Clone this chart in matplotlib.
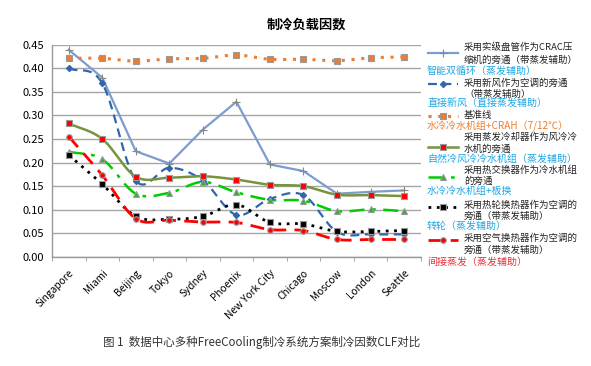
import numpy as np
import matplotlib
matplotlib.use("Agg")
import matplotlib.pyplot as plt

plt.rcParams['font.family'] = ['Noto Sans CJK SC', 'DejaVu Sans']

cities = ["Singapore", "Miami", "Beijing", "Tokyo", "Sydney", "Phoenix",
          "New York City", "Chicago", "Moscow", "London", "Seattle"]

crac = [0.439, 0.380, 0.224, 0.198, 0.270, 0.329, 0.196, 0.182, 0.134, 0.138, 0.141]
fresh_air = [0.400, 0.368, 0.162, 0.189, 0.162, 0.089, 0.123, 0.131, 0.053, 0.048, 0.048]
baseline = [0.421, 0.421, 0.415, 0.420, 0.421, 0.428, 0.419, 0.419, 0.416, 0.422, 0.424]
evap_cooler = [0.283, 0.250, 0.170, 0.168, 0.171, 0.164, 0.153, 0.150, 0.132, 0.131, 0.129]
heat_exch = [0.223, 0.207, 0.134, 0.136, 0.159, 0.137, 0.121, 0.119, 0.097, 0.101, 0.097]
heat_wheel = [0.216, 0.154, 0.086, 0.080, 0.086, 0.111, 0.073, 0.070, 0.054, 0.054, 0.056]
air_exch = [0.255, 0.173, 0.081, 0.078, 0.074, 0.073, 0.058, 0.056, 0.037, 0.037, 0.037]

legend_text = [
    ["采用实级盘管作为CRAC压", "缩机的旁通（带蒸发辅助）"],
    ["采用新风作为空调的旁通", "（带蒸发辅助）"],
    ["基准线"],
    ["采用蒸发冷却器作为风冷冷", "水机的旁通"],
    ["采用热交换器作为冷水机组", "的旁通"],
    ["采用热轮换热器作为空调的", "旁通（带蒸发辅助）"],
    ["采用空气换热器作为空调的", "旁通（带蒸发辅助）"],
]
scheme_names = [
    "智能双循环（蒸发辅助）",
    "直接新风（直接蒸发辅助）",
    "水冷冷水机组+CRAH（7/12℃）",
    "自然冷风冷冷水机组（蒸发辅助）",
    "水冷冷水机组+板换",
    "转轮（蒸发辅助）",
    "间接蒸发（蒸发辅助）",
]


def smooth(y, n=24):
    # Excel-style smoothed line (Catmull-Rom through the points)
    y = np.asarray(y, float)
    x = np.arange(len(y), dtype=float)
    px = np.concatenate([[2 * x[0] - x[1]], x, [2 * x[-1] - x[-2]]])
    py = np.concatenate([[2 * y[0] - y[1]], y, [2 * y[-1] - y[-2]]])
    xs, ys = [], []
    t = np.linspace(0, 1, n, endpoint=False)
    for i in range(1, len(px) - 2):
        for arr, out in ((px, xs), (py, ys)):
            p0, p1, p2, p3 = arr[i - 1], arr[i], arr[i + 1], arr[i + 2]
            out.extend(0.5 * (2 * p1 + (-p0 + p2) * t
                              + (2 * p0 - 5 * p1 + 4 * p2 - p3) * t ** 2
                              + (-p0 + 3 * p1 - 3 * p2 + p3) * t ** 3))
    xs.append(x[-1]); ys.append(y[-1])
    return np.array(xs), np.array(ys)


styles = [
    # data, color, linestyle, lw, marker, size, mfc, mec, smooth
    (crac, "#7B9BD1", "-", 1.6, "+", 6, "#888888", "#888888", False),
    (fresh_air, "#2F66AC", (0, (4, 2.5)), 1.6, "D", 3.2, "#2F66AC", "#2F66AC", True),
    (baseline, "#ED7D31", (0, (1, 2.2)), 2.2, "s", 4, "#ED7D31", "#999999", True),
    (evap_cooler, "#77933C", "-", 1.8, "s", 4, "#FF0000", "#999999", True),
    (heat_exch, "#00CC00", (0, (6, 3, 1.5, 3)), 1.8, "^", 4, "#2CB52C", "#999999", True),
    (heat_wheel, "#000000", (0, (1, 2)), 2.0, "s", 4, "#000000", "#999999", True),
    (air_exch, "#FF0000", (0, (5, 3)), 2.0, "o", 4, "#FF0000", "#999999", True),
]
label_colors = ["#1EA6E2", "#1EA6E2", "#F07E2E", "#1EA6E2", "#1EA6E2", "#1EA6E2", "#E2313C"]

fig = plt.figure(figsize=(5.91, 3.66), dpi=100)
ax = fig.add_axes([0.088, 0.298, 0.624, 0.58])

x = np.arange(len(cities))
for data, c, ls, lw, mk, ms, mfc, mec, sm in styles:
    if sm:
        sx, sy = smooth(data)
    else:
        sx, sy = x, np.asarray(data)
    ax.plot(sx, sy, color=c, linestyle=ls, linewidth=lw, zorder=3)
    ax.plot(x, data, linestyle="none", marker=mk, markersize=ms,
            markerfacecolor=mfc, markeredgecolor=mec, markeredgewidth=0.8, zorder=4)

ax.set_xlim(-0.5, len(cities) - 0.5)
ax.set_ylim(0, 0.45)
ax.set_yticks(np.arange(0, 0.451, 0.05))
ax.set_yticklabels([f"{v:.2f}" for v in np.arange(0, 0.451, 0.05)], fontsize=8)
ax.yaxis.grid(True, color="#A6A6A6", linewidth=1)
ax.set_axisbelow(True)
ax.set_xticks(x)
ax.set_xticklabels(cities, rotation=45, ha="right", rotation_mode="anchor", fontsize=7.3)
ax.set_xticks(np.arange(-0.5, len(cities), 1), minor=True)
ax.tick_params(axis="x", which="major", length=0, pad=8)
ax.tick_params(axis="x", which="minor", length=3, color="#999999")
ax.tick_params(axis="y", length=0, pad=6)
for s in ["top", "right"]:
    ax.spines[s].set_visible(False)
for s in ["left", "bottom"]:
    ax.spines[s].set_color("#999999")
    ax.spines[s].set_linewidth(1)

fig.text(0.518, 0.932, "制冷负载因数", ha="center", va="center", fontsize=9.5, fontweight="bold")
fig.text(0.443, 0.063, "图 1  数据中心多种FreeCooling制冷系统方案制冷因数CLF对比",
         ha="center", va="center", fontsize=8.3, color="#333333")

# legend drawn in pixel coordinates
lg = fig.add_axes([0, 0, 1, 1])
lg.set_xlim(0, 591)
lg.set_ylim(366, 0)
lg.axis("off")
sample_y = [53, 83.5, 115.5, 146.5, 176.5, 206.5, 240]
text_y = [[47, 60], [83.5, 94], [115.5], [137.5, 149], [170, 181.5], [205, 216], [238.5, 250]]
label_y = [71, 103.5, 126, 158.5, 191, 226, 262]
for i, (data, c, ls, lw, mk, ms, mfc, mec, sm) in enumerate(styles):
    lg.plot([428, 458], [sample_y[i]] * 2, color=c, linestyle=ls, linewidth=lw)
    lg.plot([443], [sample_y[i]], marker=mk, markersize=ms,
            markerfacecolor=mfc, markeredgecolor=mec, markeredgewidth=0.8)
    for line, ty in zip(legend_text[i], text_y[i]):
        lg.text(464, ty, line, fontsize=6.8, va="center", ha="left", color="#222222")
    lg.text(427, label_y[i], scheme_names[i], fontsize=7.2, va="center", ha="left",
            color=label_colors[i])

fig.savefig("out.png", dpi=100)
